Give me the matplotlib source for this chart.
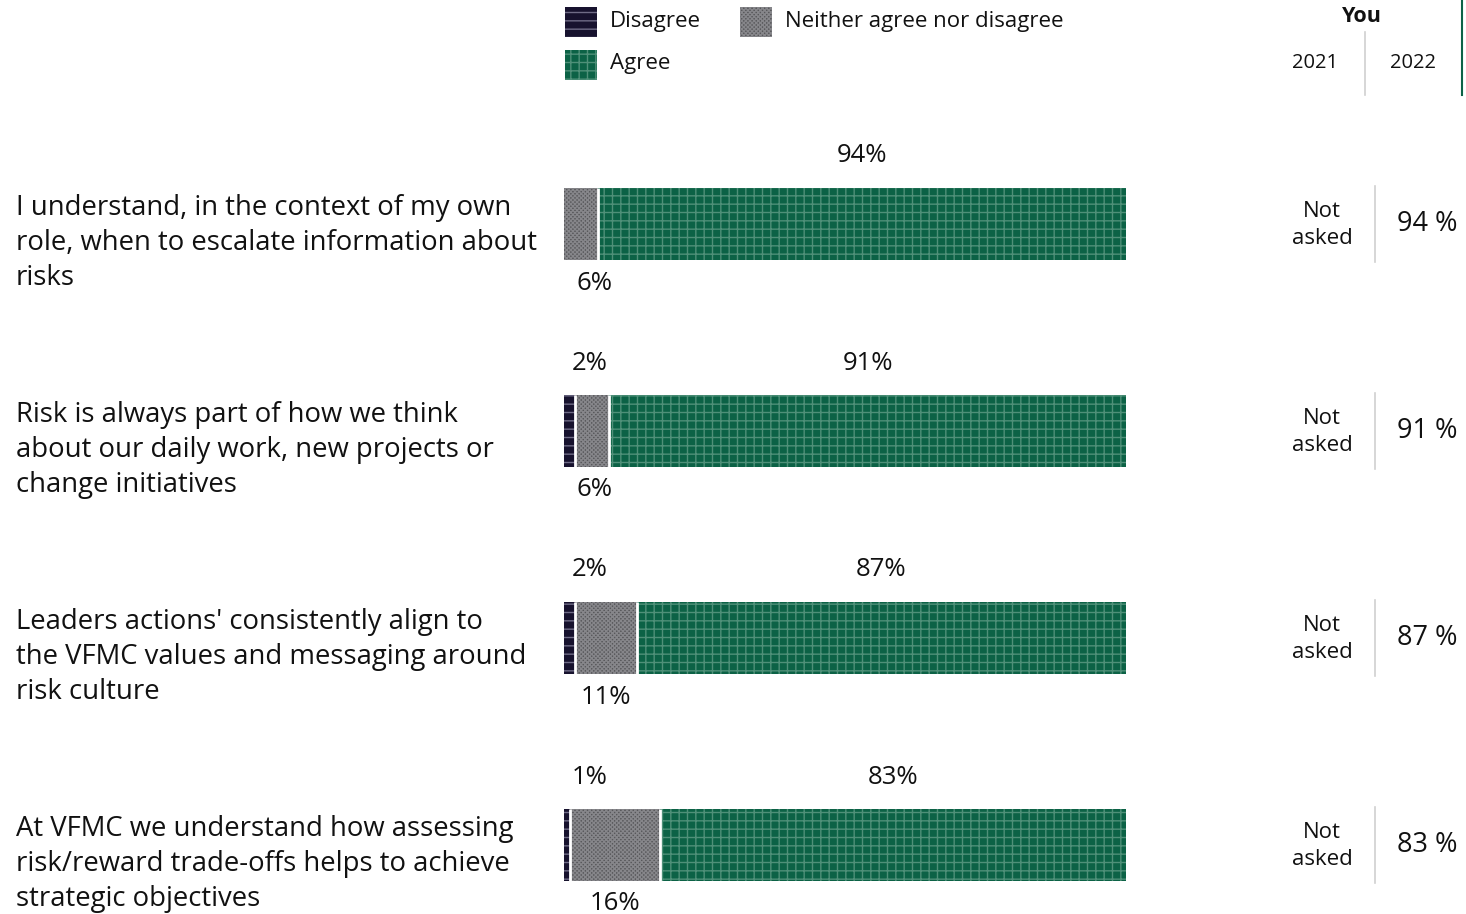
import numpy as np
import matplotlib.pyplot as plt

plt.rcParams['font.family'] = ['Open Sans', 'DejaVu Sans']
plt.rcParams['hatch.linewidth'] = 1.0

questions = [
    "I understand, in the context of my own\nrole, when to escalate information about\nrisks",
    "Risk is always part of how we think\nabout our daily work, new projects or\nchange initiatives",
    "Leaders actions' consistently align to\nthe VFMC values and messaging around\nrisk culture",
    "At VFMC we understand how assessing\nrisk/reward trade-offs helps to achieve\nstrategic objectives",
]
disagree = [0, 2, 2, 1]
neither = [6, 6, 11, 16]
agree = [94, 91, 87, 83]
you_2021 = ["Not\nasked"] * 4
you_2022 = ["94 %", "91 %", "87 %", "83 %"]

W, H = 1466, 914
fig = plt.figure(figsize=(W / 100, H / 100), dpi=100)


def fx(px):
    return px / W


def fy(py):
    return 1 - py / H


# bar axes: 0-100 maps to pixel 564..1126, row i centre at 224 + 207*i
ax = fig.add_axes([fx(564), 0, fx(1126) - fx(564), 1])
ax.set_xlim(0, 100)
ax.set_ylim((H - 224) / 207, -224 / 207)
ax.axis('off')

styles = [
    ("Disagree", '#17122e', '#6f6b86', '--'),
    ("Neither agree nor disagree", '#58585b', '#86868a', 'xxxxxxxx'),
    ("Agree", '#0c6246', '#4f9079', '++'),
]

rows = np.arange(len(questions))
d = np.array(disagree, float)
n = np.array(neither, float)
a = np.array(agree, float)
tot = d + n + a
d, n, a = d / tot * 100, n / tot * 100, a / tot * 100
bh = 72 / 207

lefts = [np.zeros(4), d, d + n]
for (name, fc, hc, hatch), vals, left in zip(styles, [d, n, a], lefts):
    ax.barh(rows, vals, left=left, height=bh, color=fc, edgecolor=hc,
            hatch=hatch, linewidth=0)

# white gaps between segments
for i in rows:
    for b in [d[i], d[i] + n[i]]:
        if 0 < b < 100:
            ax.vlines(b, i - bh / 2, i + bh / 2, color='white', lw=2)

lab_up = 68 / 207
lab_dn = 59 / 207
for i in rows:
    if disagree[i] > 0:
        ax.text(max(d[i] / 2, 4.5), i - lab_up, f"{disagree[i]}%", ha='center',
                va='center', fontsize=18.5, color='#111111')
    ax.text(max(d[i] + n[i] / 2, 5.5), i + lab_dn, f"{neither[i]}%", ha='center',
            va='center', fontsize=18.5, color='#111111')
    ax.text(d[i] + n[i] + a[i] / 2, i - lab_up, f"{agree[i]}%", ha='center',
            va='center', fontsize=18.5, color='#111111')

# question text
for i, q in enumerate(questions):
    fig.text(fx(16), fy(224 + 207 * i + 19), q, ha='left', va='center',
             fontsize=19.8, color='#111111', linespacing=1.33)

# right columns
for i in rows:
    yc = 224 + 207 * i
    fig.text(fx(1322), fy(yc + 1), you_2021[i], ha='center', va='center',
             fontsize=16, color='#111111', linespacing=1.4)
    fig.text(fx(1427), fy(yc), you_2022[i], ha='center', va='center',
             fontsize=19.5, color='#111111')
    fig.add_artist(plt.Line2D([fx(1375)] * 2, [fy(yc - 38), fy(yc + 38)],
                              color='#d0d0d0', lw=1.2))

fig.text(fx(1362), fy(16), "You", ha='center', va='center', fontsize=15.5,
         fontweight='bold', color='#111111')
fig.text(fx(1315), fy(63), "2021", ha='center', va='center', fontsize=14.5,
         color='#111111')
fig.text(fx(1413), fy(63), "2022", ha='center', va='center', fontsize=14.5,
         color='#111111')
fig.add_artist(plt.Line2D([fx(1365)] * 2, [fy(32), fy(95)], color='#d0d0d0', lw=1.2))
fig.add_artist(plt.Line2D([fx(1462)] * 2, [fy(0), fy(95)], color='#0c6246', lw=1.5))

# legend
leg_pos = [(565, 7), (740, 7), (565, 50)]
for (name, fc, hc, hatch), (lx, ly) in zip(styles, leg_pos):
    fig.add_artist(plt.Rectangle((fx(lx), fy(ly + 30)), fx(32), 30 / H,
                                 facecolor=fc, edgecolor=hc, hatch=hatch,
                                 linewidth=0, transform=fig.transFigure))
    fig.text(fx(lx + 45), fy(ly + 14), name, ha='left', va='center',
             fontsize=16, color='#111111')

fig.savefig('out.png', dpi=100)
